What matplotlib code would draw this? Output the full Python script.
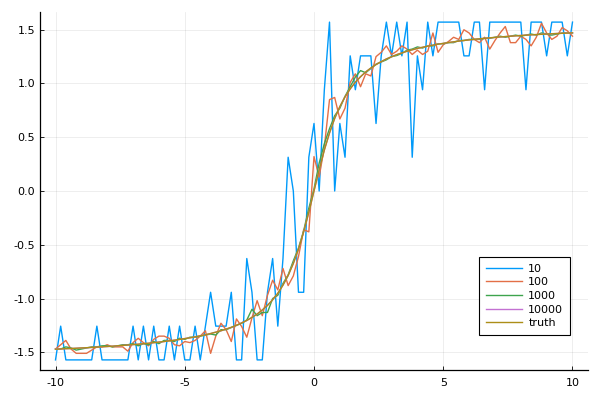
import numpy as np
import matplotlib
matplotlib.use("Agg")
import matplotlib.pyplot as plt

plt.rcParams['axes.unicode_minus'] = False
plt.rcParams['font.family'] = ['DejaVu Sans']

x_start, x_stop, n_pts = -10.0, 10.0, 101

s10 = [
    -1.571, -1.257, -1.571, -1.571, -1.571, -1.571, -1.571, -1.571, -1.257, -1.571,
    -1.571, -1.571, -1.571, -1.571, -1.571, -1.257, -1.571, -1.257, -1.571, -1.257,
    -1.571, -1.571, -1.257, -1.571, -1.257, -1.571, -1.571, -1.257, -1.571, -1.257,
    -0.942, -1.257, -1.257, -1.257, -0.942, -1.571, -1.571, -0.628, -0.942, -1.571,
    -1.571, -0.942, -0.628, -1.257, -0.628, 0.314, 0.0, -0.942, -0.942, 0.314,
    0.628, 0.0, 0.942, 1.571, 0.0, 0.628, 0.314, 1.257, 0.942, 1.257,
    1.257, 1.257, 0.628, 1.257, 1.571, 1.257, 1.571, 1.257, 1.571, 0.314,
    1.257, 0.942, 1.571, 1.257, 1.571, 1.571, 1.571, 1.571, 1.571, 1.257,
    1.257, 1.571, 1.571, 0.942, 1.571, 1.571, 1.571, 1.571, 1.571, 1.571,
    1.571, 0.942, 1.571, 1.571, 1.571, 1.257, 1.571, 1.571, 1.571, 1.257,
    1.571,
]

s100 = [
    -1.47, -1.43, -1.39, -1.47, -1.51, -1.51, -1.51, -1.48, -1.45, -1.45,
    -1.43, -1.45, -1.45, -1.45, -1.49, -1.41, -1.37, -1.41, -1.44, -1.38,
    -1.35, -1.35, -1.37, -1.43, -1.44, -1.40, -1.41, -1.39, -1.35, -1.30,
    -1.51, -1.35, -1.23, -1.29, -1.40, -1.19, -1.26, -1.36, -1.18, -1.02,
    -1.16, -0.97, -0.83, -0.92, -0.72, -0.88, -0.79, -0.61, -0.36, -0.38,
    0.32, 0.13, 0.41, 0.85, 0.87, 0.67, 0.77, 1.01, 1.09, 0.97,
    1.09, 1.07, 1.25, 1.29, 1.35, 1.27, 1.30, 1.35, 1.32, 1.27,
    1.31, 1.27, 1.30, 1.47, 1.29, 1.36, 1.39, 1.43, 1.41, 1.50,
    1.47, 1.41, 1.38, 1.43, 1.32, 1.40, 1.47, 1.53, 1.38, 1.38,
    1.44, 1.41, 1.35, 1.43, 1.56, 1.47, 1.41, 1.44, 1.52, 1.49,
    1.44,
]

s1000 = [
    -1.47, -1.47, -1.45, -1.46, -1.48, -1.47, -1.46, -1.45, -1.45, -1.44,
    -1.44, -1.45, -1.44, -1.43, -1.43, -1.42, -1.44, -1.42, -1.43, -1.40,
    -1.42, -1.39, -1.39, -1.40, -1.37, -1.38, -1.36, -1.36, -1.35, -1.34,
    -1.33, -1.34, -1.29, -1.29, -1.27, -1.25, -1.23, -1.20, -1.10, -1.16,
    -1.13, -1.13, -1.00, -0.97, -0.86, -0.78, -0.65, -0.53, -0.37, -0.16,
    0.02, 0.26, 0.44, 0.58, 0.70, 0.77, 0.88, 0.97, 1.06, 1.12,
    1.10, 1.14, 1.18, 1.20, 1.22, 1.25, 1.26, 1.28, 1.31, 1.32,
    1.34, 1.33, 1.35, 1.35, 1.37, 1.37, 1.38, 1.38, 1.40, 1.40,
    1.41, 1.41, 1.41, 1.42, 1.42, 1.43, 1.44, 1.43, 1.44, 1.45,
    1.44, 1.45, 1.46, 1.45, 1.47, 1.46, 1.45, 1.46, 1.47, 1.47,
    1.47,
]

s10000 = [
    -1.468, -1.470, -1.466, -1.465, -1.463, -1.459, -1.458, -1.455, -1.453, -1.449,
    -1.447, -1.443, -1.441, -1.436, -1.434, -1.428, -1.426, -1.420, -1.417, -1.411,
    -1.405, -1.401, -1.393, -1.388, -1.381, -1.372, -1.366, -1.357, -1.346, -1.338,
    -1.326, -1.312, -1.301, -1.284, -1.269, -1.250, -1.226, -1.205, -1.175, -1.146,
    -1.106, -1.065, -1.011, -0.952, -0.875, -0.786, -0.673, -0.542, -0.379, -0.199,
    0.002, 0.196, 0.382, 0.539, 0.676, 0.784, 0.877, 0.949, 1.013, 1.062,
    1.108, 1.143, 1.177, 1.203, 1.229, 1.248, 1.269, 1.284, 1.301, 1.313,
    1.327, 1.336, 1.348, 1.356, 1.366, 1.373, 1.381, 1.387, 1.395, 1.400,
    1.406, 1.410, 1.416, 1.420, 1.425, 1.428, 1.433, 1.436, 1.440, 1.443,
    1.447, 1.449, 1.453, 1.455, 1.458, 1.460, 1.463, 1.465, 1.467, 1.469,
    1.471,
]

truth = [
    -1.4711, -1.4690, -1.4669, -1.4648, -1.4625, -1.4601, -1.4576, -1.4551, -1.4523, -1.4495,
    -1.4464, -1.4433, -1.4400, -1.4365, -1.4328, -1.4289, -1.4248, -1.4204, -1.4158, -1.4109,
    -1.4056, -1.4001, -1.3941, -1.3877, -1.3808, -1.3734, -1.3654, -1.3567, -1.3473, -1.3371,
    -1.3258, -1.3135, -1.2998, -1.2847, -1.2679, -1.2490, -1.2278, -1.2036, -1.1760, -1.1442,
    -1.1071, -1.0637, -1.0122, -0.9505, -0.8761, -0.7854, -0.6747, -0.5404, -0.3805, -0.1974,
    0.0, 0.1974, 0.3805, 0.5404, 0.6747, 0.7854, 0.8761, 0.9505, 1.0122, 1.0637,
    1.1071, 1.1442, 1.1760, 1.2036, 1.2278, 1.2490, 1.2679, 1.2847, 1.2998, 1.3135,
    1.3258, 1.3371, 1.3473, 1.3567, 1.3654, 1.3734, 1.3808, 1.3877, 1.3941, 1.4001,
    1.4056, 1.4109, 1.4158, 1.4204, 1.4248, 1.4289, 1.4328, 1.4365, 1.4400, 1.4433,
    1.4464, 1.4495, 1.4523, 1.4551, 1.4576, 1.4601, 1.4625, 1.4648, 1.4669, 1.4690,
    1.4711,
]

labels = ["10", "100", "1000", "10000", "truth"]
colors = ["#009AFA", "#E36F47", "#3EA44E", "#C371D2", "#AC8E18"]
x_ticks = [-10, -5, 0, 5, 10]
y_ticks = [-1.5, -1.0, -0.5, 0.0, 0.5, 1.0, 1.5]

xs = np.linspace(x_start, x_stop, n_pts)

fig = plt.figure(figsize=(6, 4), dpi=100)
ax = fig.add_axes([40/600, 30/400, 548/600, 358/400])

for ys, lab, c in zip([s10, s100, s1000, s10000, truth], labels, colors):
    ax.plot(xs, ys, color=c, lw=1.0, label=lab)

ax.set_xlim(-10.6, 10.6)
ax.set_ylim(-1.665, 1.665)
ax.set_xticks(x_ticks)
ax.set_xticklabels([str(t) for t in x_ticks])
ax.set_yticks(y_ticks)
ax.set_yticklabels([f"{t:.1f}" for t in y_ticks])
ax.grid(True, color="black", alpha=0.08, lw=0.6)
for s in ["top", "right"]:
    ax.spines[s].set_visible(False)
for s in ["left", "bottom"]:
    ax.spines[s].set_linewidth(0.9)
ax.tick_params(direction="in", length=3, width=0.6, labelsize=8, colors="black")
ax.tick_params(axis="x", pad=6)

leg = ax.legend(loc="lower right", bbox_to_anchor=(0.967, 0.098), fontsize=8,
                frameon=True, fancybox=False, framealpha=1, edgecolor="black",
                handlelength=3.2, handletextpad=0.6, labelspacing=0.33,
                borderpad=0.6, borderaxespad=0)
leg.get_frame().set_linewidth(0.8)

fig.savefig("out.png", dpi=100)
